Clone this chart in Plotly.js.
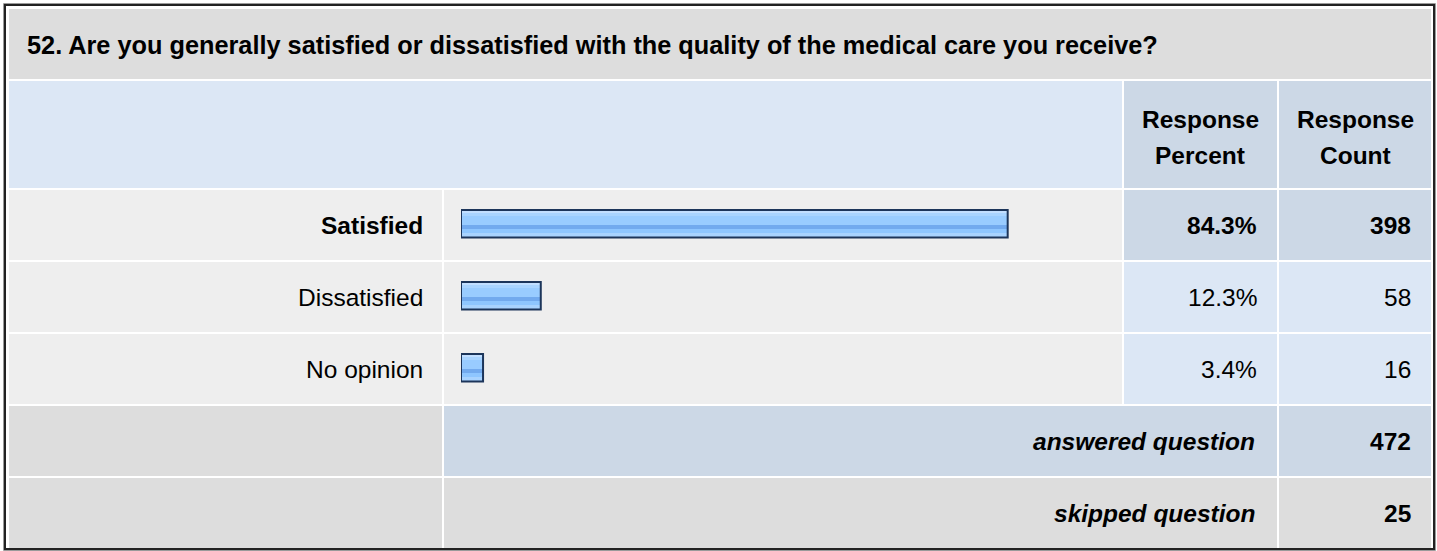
<!DOCTYPE html>
<html>
<head>
<meta charset="utf-8">
<script src="https://cdn.plot.ly/plotly-3.0.1.min.js"></script>
<style>html,body{margin:0;padding:0;background:#fff;}#chart{width:1437px;height:551px;}</style>
</head>
<body>
<div id="chart"></div>
<script>
// ---- data ----
const questionTitle = "52. Are you generally satisfied or dissatisfied with the quality of the medical care you receive?";
const categories = ["Satisfied", "Dissatisfied", "No opinion"];
const percents = [84.3, 12.3, 3.4];
const counts = [398, 58, 16];
const headerPercent = ["Response", "Percent"];
const headerCount = ["Response", "Count"];
const answeredLabel = "answered question";
const skippedLabel = "skipped question";
const answeredCount = 472;
const skippedCount = 25;

// ---- layout helpers ----
const W = 1437, H = 551;
const FONT = "Liberation Sans, Arial, sans-serif";
const FS = 24.5;
function px(x) { return x / W; }
function py(y) { return 1 - y / H; }
function rect(x0, y0, x1, y1, color) {
  return {type: 'rect', xref: 'paper', yref: 'paper', layer: 'below',
    x0: px(x0), x1: px(x1), y0: py(y1), y1: py(y0), fillcolor: color, line: {width: 0}};
}
const C_GRAY = '#DDDDDD', C_ROW = '#EEEEEE', C_HEAD = '#DCE7F5', C_DARK = '#CCD8E6', C_LIGHT = '#DCE7F5';

const shapes = [];
shapes.push(rect(9, 9, 1431, 79, C_GRAY));
shapes.push(rect(9, 81, 1122, 188, C_HEAD));
shapes.push(rect(1124, 81, 1277, 188, C_DARK));
shapes.push(rect(1279, 81, 1431, 188, C_DARK));
categories.forEach((c, i) => {
  const y0 = 190 + 72 * i, y1 = y0 + 70;
  shapes.push(rect(9, y0, 442, y1, C_ROW));
  shapes.push(rect(444, y0, 1122, y1, C_ROW));
  const vc = i === 0 ? C_DARK : C_LIGHT;
  shapes.push(rect(1124, y0, 1277, y1, vc));
  shapes.push(rect(1279, y0, 1431, y1, vc));
});
shapes.push(rect(9, 406, 442, 476, C_GRAY));
shapes.push(rect(444, 406, 1277, 476, C_DARK));
shapes.push(rect(1279, 406, 1431, 476, C_DARK));
shapes.push(rect(9, 478, 442, 548, C_GRAY));
shapes.push(rect(444, 478, 1277, 548, C_GRAY));
shapes.push(rect(1279, 478, 1431, 548, C_GRAY));
// outer frame
shapes.push({type: 'rect', xref: 'paper', yref: 'paper', layer: 'above',
  x0: px(3.5), x1: px(1435.5), y0: py(550.5), y1: py(3.5), line: {color: '#9a9a9a', width: 1}});
shapes.push({type: 'rect', xref: 'paper', yref: 'paper', layer: 'above',
  x0: px(5), x1: px(1434), y0: py(549), y1: py(5), line: {color: '#222222', width: 2}});

// ---- bar traces (glossy stripes) ----
const PITCH = 72;
function u(p) { return p / PITCH; }
const traces = [];
const baseBar = {type: 'bar', orientation: 'h', x: percents, y: categories,
  hoverinfo: 'skip', showlegend: false, xaxis: 'x', yaxis: 'y'};
// base fill
traces.push(Object.assign({}, baseBar, {offset: u(-15), width: u(28), marker: {color: '#99CCFF', line: {width: 0}}}));
const stripes = [
  [-14, 2, '#C2DFFF'],
  [-12, 3, '#A9D4FF'],
  [0, 4, '#72AAEE'],
  [4, 4, '#8EC6FF'],
  [8, 4, '#A8D3FF']
];
stripes.forEach(s => {
  traces.push(Object.assign({}, baseBar, {offset: u(s[0]), width: u(s[1]), marker: {color: s[2], line: {width: 0}}}));
});
// outline
traces.push(Object.assign({}, baseBar, {offset: u(-15), width: u(27.5),
  marker: {color: 'rgba(0,0,0,0)', line: {color: '#1C355A', width: 2}}}));

// ---- annotations ----
const ann = [];
function txt(text, x, y, xanchor, opts) {
  return Object.assign({text: text, x: x, y: y, xref: 'paper', yref: 'paper', xanchor: xanchor, yanchor: 'middle',
    showarrow: false, font: {family: FONT, size: FS, color: '#000'}}, opts || {});
}
ann.push(txt('<b>' + questionTitle + '</b>', px(25), py(45), 'left', {font: {family: FONT, size: 25.3, color: '#000'}}));
ann.push(txt('<b>' + headerPercent[0] + '</b>', px(1200), py(119), 'center'));
ann.push(txt('<b>' + headerPercent[1] + '</b>', px(1200), py(155), 'center'));
ann.push(txt('<b>' + headerCount[0] + '</b>', px(1355), py(119), 'center'));
ann.push(txt('<b>' + headerCount[1] + '</b>', px(1355), py(155), 'center'));
categories.forEach((c, i) => {
  const b = i === 0;
  const w = s => b ? '<b>' + s + '</b>' : s;
  ann.push(txt(w(c), px(425), c, 'right', {yref: 'y'}));
  ann.push(txt(w(percents[i].toFixed(1) + '%'), px(1259), c, 'right', {yref: 'y'}));
  ann.push(txt(w(String(counts[i])), px(1413), c, 'right', {yref: 'y'}));
});
ann.push(txt('<b><i>' + answeredLabel + '</i></b>', px(1257), py(441), 'right'));
ann.push(txt('<b>' + answeredCount + '</b>', px(1413), py(441), 'right'));
ann.push(txt('<b><i>' + skippedLabel + '</i></b>', px(1257), py(513), 'right'));
ann.push(txt('<b>' + skippedCount + '</b>', px(1413), py(513), 'right'));

const xStart = 461, pxPerPct = 6.485;
const layout = {
  width: W, height: H,
  margin: {l: 0, r: 0, t: 0, b: 0, pad: 0},
  paper_bgcolor: '#FFFFFF', plot_bgcolor: 'rgba(0,0,0,0)',
  barmode: 'overlay',
  showlegend: false,
  xaxis: {domain: [px(xStart), px(xStart + 100 * pxPerPct)], range: [0, 100], visible: false, fixedrange: true},
  yaxis: {domain: [py(405), py(189)], type: 'category', categoryorder: 'array', categoryarray: categories,
    range: [2.5, -0.5], visible: false, fixedrange: true},
  shapes: shapes,
  annotations: ann,
  font: {family: FONT}
};
Plotly.newPlot('chart', traces, layout, {displayModeBar: false, staticPlot: true});
</script>
</body>
</html>
